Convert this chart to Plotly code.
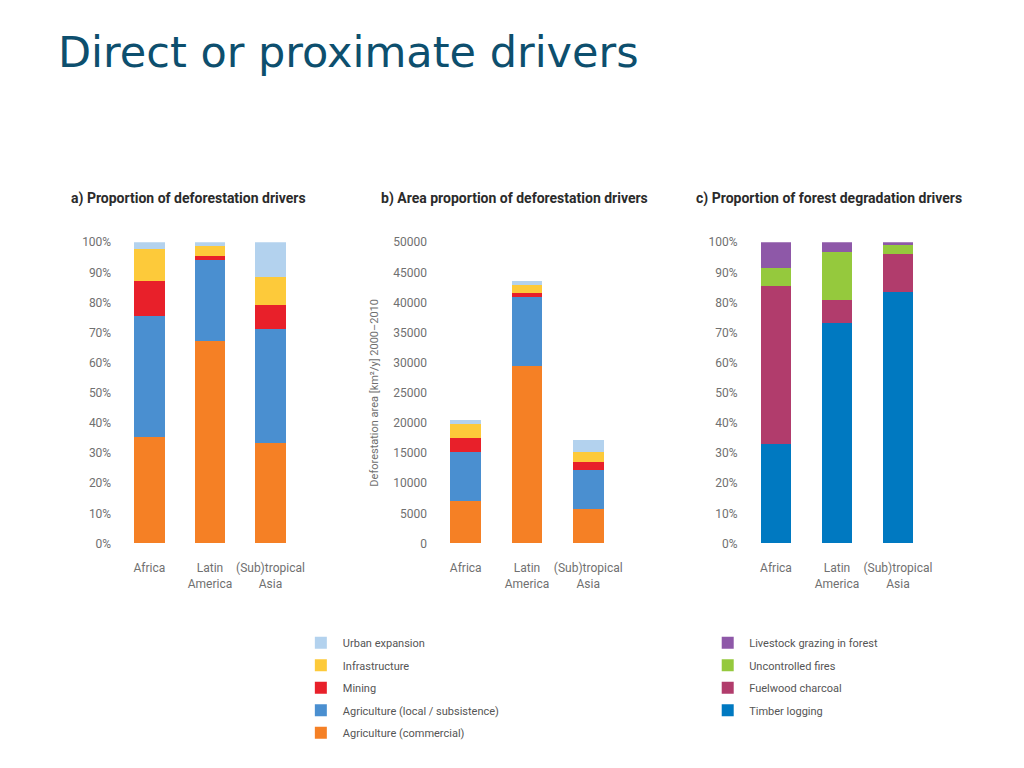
import plotly.graph_objects as go
from plotly.subplots import make_subplots

regions = ["Africa", "Latin<br>America", "(Sub)tropical<br>Asia"]

# a) proportion of deforestation drivers (%)
defor_drivers = ["Agriculture (commercial)", "Agriculture (local / subsistence)",
                 "Mining", "Infrastructure", "Urban expansion"]
defor_colors = ["#f58025", "#4a8fd0", "#e8202a", "#fdca3a", "#b3d2ee"]
share_commercial = [35.3, 67.1, 33.2]
share_local = [40.1, 26.9, 37.9]
share_mining = [11.6, 1.5, 8.0]
share_infra = [10.9, 3.3, 9.3]
share_urban = [2.1, 1.2, 11.6]

# b) area (km2/y)
area_commercial = [7000, 29500, 5750]
area_local = [8200, 11350, 6400]
area_mining = [2300, 650, 1450]
area_infra = [2350, 1350, 1600]
area_urban = [650, 750, 2050]

# c) proportion of forest degradation drivers (%)
degr_drivers = ["Timber logging", "Fuelwood charcoal", "Uncontrolled fires",
                "Livestock grazing in forest"]
degr_colors = ["#0079c1", "#b13c6c", "#95c93d", "#8e58a8"]
degr_timber = [32.9, 73.3, 83.4]
degr_fuelwood = [52.6, 7.5, 12.6]
degr_fires = [5.9, 15.9, 3.2]
degr_livestock = [8.6, 3.3, 0.8]

shares = [share_commercial, share_local, share_mining, share_infra, share_urban]
areas = [area_commercial, area_local, area_mining, area_infra, area_urban]
degr = [degr_timber, degr_fuelwood, degr_fires, degr_livestock]

# page has an 8px body margin, so the figure is a bit smaller than the window
W, H = 1008, 752


def px(x):
    return (x - 8) / W


def py(y):
    return (760 - y) / H


fig = make_subplots(rows=1, cols=3)

n = len(defor_drivers)
for i, (name, col, vals) in enumerate(zip(defor_drivers, defor_colors, shares)):
    fig.add_trace(go.Bar(x=regions, y=vals, name=name, marker_color=col,
                         marker_line_width=0, legendgroup=name, legend="legend",
                         legendrank=n - i),
                  row=1, col=1)
for name, col, vals in zip(defor_drivers, defor_colors, areas):
    fig.add_trace(go.Bar(x=regions, y=vals, name=name, marker_color=col,
                         marker_line_width=0, legendgroup=name, showlegend=False),
                  row=1, col=2)
m = len(degr_drivers)
for i, (name, col, vals) in enumerate(zip(degr_drivers, degr_colors, degr)):
    fig.add_trace(go.Bar(x=regions, y=vals, name=name, marker_color=col,
                         marker_line_width=0, legendgroup=name, legend="legend2",
                         legendrank=m - i),
                  row=1, col=3)

tick_font = dict(family="Roboto", size=12, color="#707070")
ydom = [py(546.5), py(239.5)]
xdoms = [(119.6, 301.9), (436.8, 621.3), (748.4, 932.1)]
for i, (x0, x1) in enumerate(xdoms, start=1):
    fig.update_xaxes(domain=[px(x0), px(x1)], showgrid=False, showline=False,
                     zeroline=False, tickfont=tick_font, ticklabelstandoff=16,
                     row=1, col=i)
    fig.update_yaxes(domain=ydom, showgrid=False, showline=False, zeroline=False,
                     tickfont=tick_font, ticklabelstandoff=7, row=1, col=i)

fig.update_yaxes(range=[0, 100], dtick=10, ticksuffix="%", row=1, col=1)
fig.update_yaxes(range=[0, 100], dtick=10, ticksuffix="%", row=1, col=3)
fig.update_yaxes(range=[0, 50000], dtick=5000, tickformat="d", row=1, col=2,
                 title=dict(text="Deforestation area [km²/y] 2000–2010",
                            font=dict(family="Roboto", size=11, color="#707070"),
                            standoff=12))

sub_font = dict(family="Roboto", size=14, color="#2b2b2b")
for txt, x in [("<b>a) Proportion of deforestation drivers</b>", 69),
               ("<b>b) Area proportion of deforestation drivers</b>", 380),
               ("<b>c) Proportion of forest degradation drivers</b>", 697)]:
    fig.add_annotation(text=txt, x=px(x), y=py(195), xref="paper",
                       yref="paper", xanchor="left", yanchor="middle",
                       showarrow=False, font=sub_font)

fig.add_annotation(text="Direct or proximate drivers", x=px(56), y=py(46),
                   xref="paper", yref="paper", xanchor="left", yanchor="middle",
                   showarrow=False,
                   font=dict(family="DejaVu Sans", size=43, color="#0d4f6e"))

legend_font = dict(family="Roboto", size=11, color="#555555")
legend_common = dict(xanchor="left", yanchor="top", traceorder="grouped",
                     tracegroupgap=3.5, font=legend_font,
                     bgcolor="rgba(0,0,0,0)")
fig.update_layout(
    width=W, height=H,
    margin=dict(l=0, r=0, t=0, b=0),
    paper_bgcolor="white", plot_bgcolor="white",
    barmode="stack", bargap=0.5,
    legend=dict(x=px(300), y=py(633), itemwidth=34, **legend_common),
    legend2=dict(x=px(709), y=py(633), itemwidth=33, **legend_common),
)

fig.write_html("out.html")
